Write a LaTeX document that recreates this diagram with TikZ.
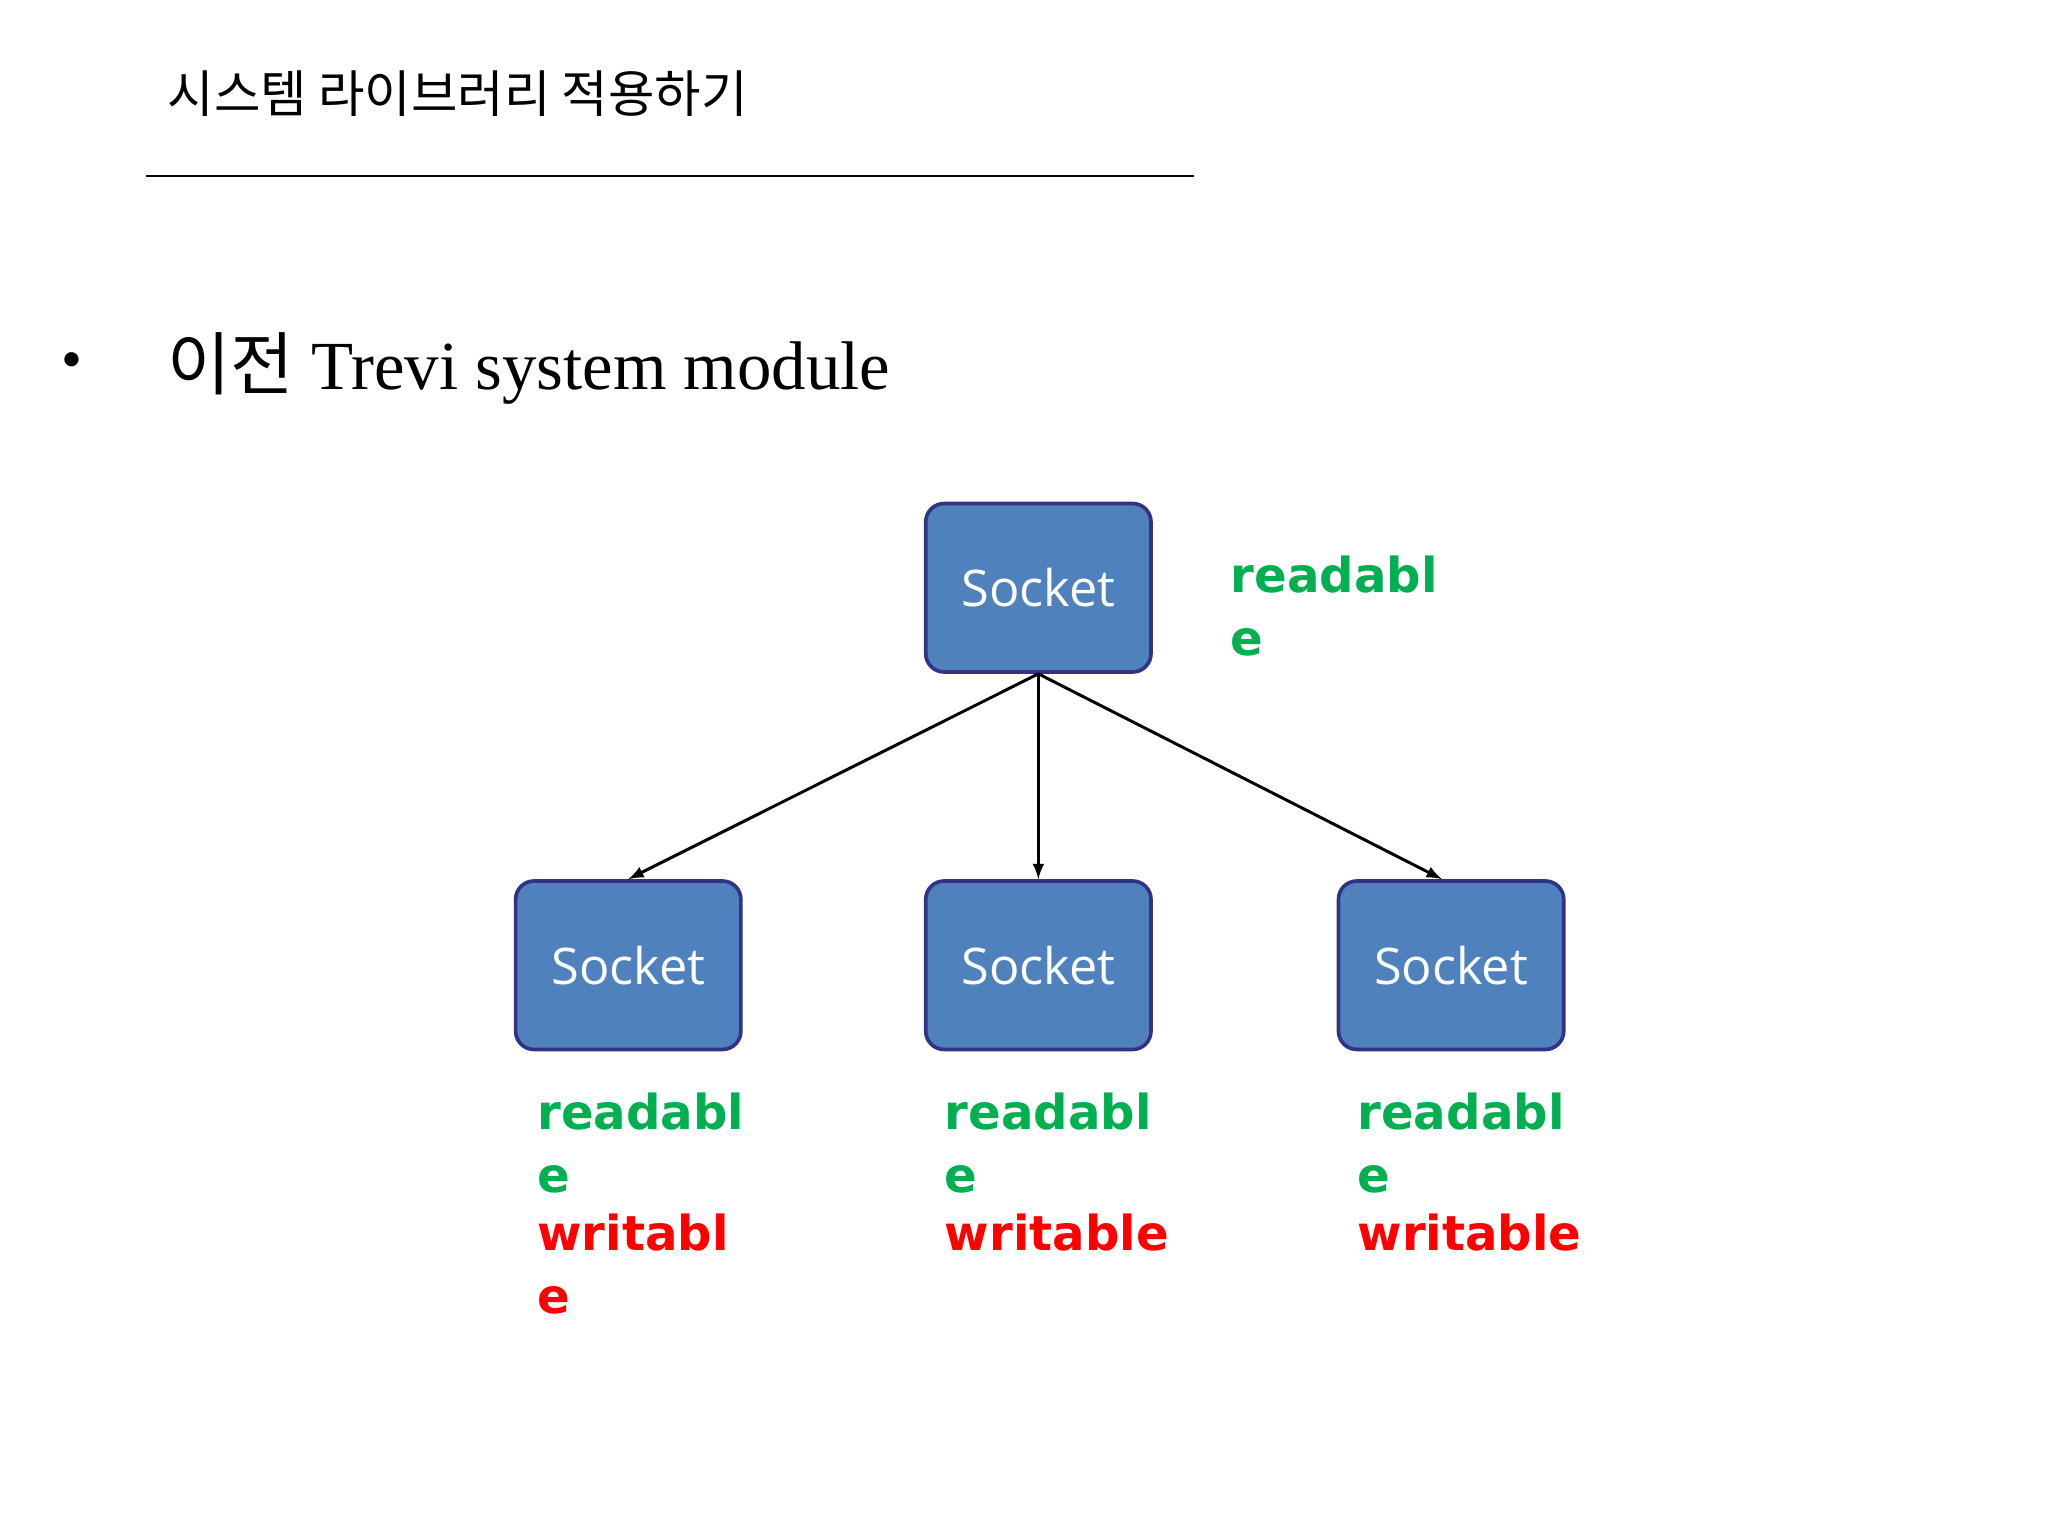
\documentclass[tikz,border=0pt]{standalone}
\usepackage{fontspec}
\setmainfont{Liberation Serif}
\newfontfamily\kr{Noto Sans CJK KR}
\newfontfamily\lab{Open Sans}
\newfontfamily\bl{DejaVu Sans}
\begin{document}
\begin{tikzpicture}[x=0.02cm,y=-0.02cm,
  sock/.style={draw=blue!40!black!80, line width=1.6pt, fill={rgb,255:red,79;green,129;blue,189}, rounded corners=8pt, minimum width=3.45cm, minimum height=2.58cm, text=white, font=\lab\fontsize{22}{26}\selectfont},
  arr/.style={-latex, line width=1.3pt},
  gl/.style={anchor=north west, align=left, inner sep=0pt, font=\bl\bfseries\fontsize{21}{27.5}\selectfont, text={rgb,255:red,0;green,176;blue,80}},
  rl/.style={anchor=north west, align=left, inner sep=0pt, font=\bl\bfseries\fontsize{21}{27.5}\selectfont, text=red}]
\useasboundingbox (0,0) rectangle (1568,1176);
\node[anchor=base west, inner sep=0pt, font=\kr\fontsize{22}{26}\selectfont] (title) at (128,86) {시스템 라이브러리 적용하기};
\draw[line width=1pt] (112,135) -- (914,135);
\node[inner sep=0pt, font=\fontsize{26}{30}\selectfont] (bul) at (55,280) {•};
\node[anchor=base west, inner sep=0pt, font=\fontsize{30}{34}\selectfont] (head) at (128,298) {{\kr 이전} Trevi system module};
\node[sock] (top) at (795,450) {Socket};
\node[sock] (b1) at (481,739) {Socket};
\node[sock] (b2) at (795,739) {Socket};
\node[sock] (b3) at (1111,739) {Socket};
\draw[arr] (top.south) -- (b1.north);
\draw[arr] (top.south) -- (b2.north);
\draw[arr] (top.south) -- ([xshift=-4]b3.north);
\node[gl] (t0) at (942,425) {readabl\\e};
\node[gl] (l1) at (411,836) {readabl\\e};
\node[rl] (w1) at (411,929) {writabl\\e};
\node[gl] (l2) at (723,836) {readabl\\e};
\node[rl] (w2) at (723,929) {writable};
\node[gl] (l3) at (1039,836) {readabl\\e};
\node[rl] (w3) at (1039,929) {writable};
\end{tikzpicture}
\end{document}
